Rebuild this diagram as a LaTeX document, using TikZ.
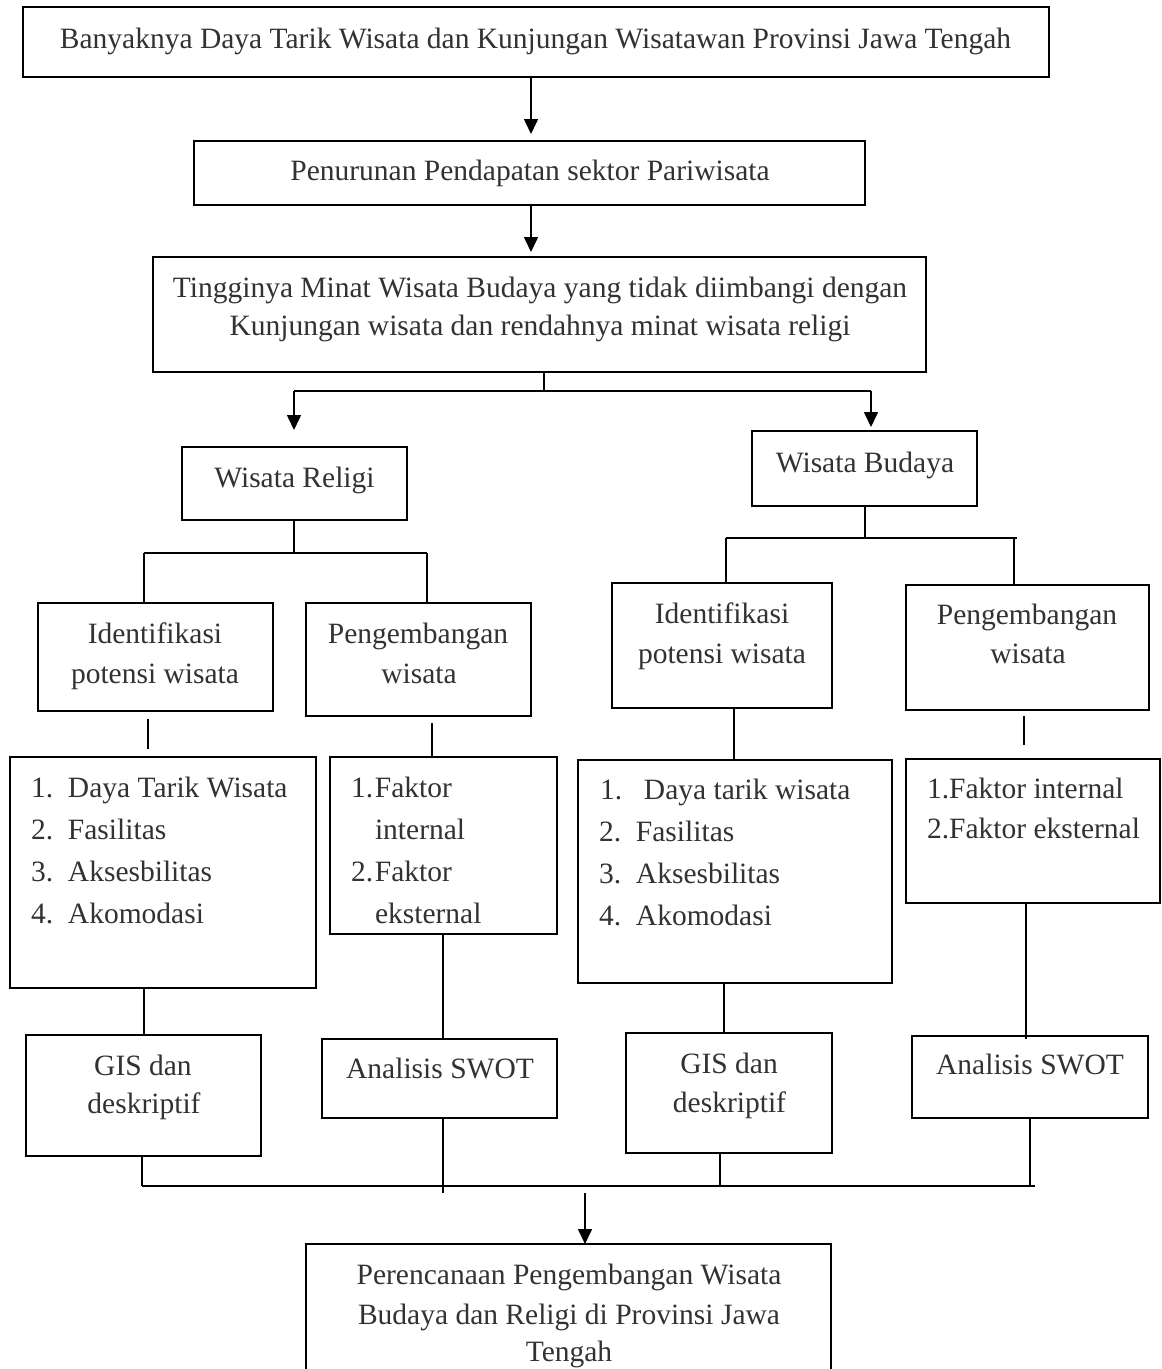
\documentclass[tikz,border=0pt]{standalone}
\usepackage{fontspec}
\setmainfont{Liberation Serif}
\usetikzlibrary{arrows.meta}
\definecolor{txt}{RGB}{50,50,50}
\begin{document}
\begin{tikzpicture}[x=1pt,y=-1pt,
  box/.style={draw=black, line width=1.8pt, anchor=north west, inner sep=0pt, outer sep=0pt},
  lbl/.style={anchor=base, inner sep=0pt, outer sep=0pt, text=txt, font=\fontsize{29.5}{36}\selectfont},
  item/.style={lbl, anchor=base west},
  conn/.style={line width=1.6pt},
  hconn/.style={line width=2.2pt},
  arr/.style={conn, -{Triangle[length=15pt,width=14pt]}}]
\useasboundingbox (0,0) rectangle (1162,1369);
\clip (0,0) rectangle (1162,1369);
\fill[white] (0,0) rectangle (1162,1369);

% ---------- boxes ----------
\node[box, minimum width=1026pt, minimum height=70pt] (b1) at (23,7) {};
\node[box, minimum width=671pt, minimum height=64pt] (b2) at (194,141) {};
\node[box, minimum width=773pt, minimum height=115pt] (b3) at (153,257) {};
\node[box, minimum width=225pt, minimum height=73pt] (wr) at (182,447) {};
\node[box, minimum width=225pt, minimum height=75pt] (wb) at (752,431) {};
\node[box, minimum width=235pt, minimum height=108pt] (idr) at (38,603) {};
\node[box, minimum width=225pt, minimum height=113pt] (pr) at (306,603) {};
\node[box, minimum width=220pt, minimum height=125pt] (idb) at (612,583) {};
\node[box, minimum width=243pt, minimum height=125pt] (pb) at (906,585) {};
\node[box, minimum width=306pt, minimum height=231pt] (lr1) at (10,757) {};
\node[box, minimum width=227pt, minimum height=177pt] (lr2) at (330,757) {};
\node[box, minimum width=314pt, minimum height=223pt] (lb1) at (578,760) {};
\node[box, minimum width=254pt, minimum height=144pt] (lb2) at (906,759) {};
\node[box, minimum width=235pt, minimum height=121pt] (gr) at (26,1035) {};
\node[box, minimum width=235pt, minimum height=79pt] (sr) at (322,1039) {};
\node[box, minimum width=206pt, minimum height=120pt] (gb) at (626,1033) {};
\node[box, minimum width=236pt, minimum height=82pt] (sb) at (912,1036) {};
\node[box, minimum width=525pt, minimum height=200pt] (fin) at (306,1244) {};

% ---------- texts ----------
\node[lbl] (t1) at (535.5,48) {Banyaknya Daya Tarik Wisata dan Kunjungan Wisatawan Provinsi Jawa Tengah};
\node[lbl] (t2) at (530,180) {Penurunan Pendapatan sektor Pariwisata};
\node[lbl] (t3a) at (540,297) {Tingginya Minat Wisata Budaya yang tidak diimbangi dengan};
\node[lbl] (t3b) at (540,335) {Kunjungan wisata dan rendahnya minat wisata religi};
\node[lbl] (twr) at (294.5,487) {Wisata Religi};
\node[lbl] (twb) at (865,472) {Wisata Budaya};
\node[lbl] (tidr1) at (155,643) {Identifikasi};
\node[lbl] (tidr2) at (155,683) {potensi wisata};
\node[lbl] (tpr1) at (418,643) {Pengembangan};
\node[lbl] (tpr2) at (419,683) {wisata};
\node[lbl] (tidb1) at (722,623) {Identifikasi};
\node[lbl] (tidb2) at (722,663) {potensi wisata};
\node[lbl] (tpb1) at (1027,624) {Pengembangan};
\node[lbl] (tpb2) at (1028,663) {wisata};

\node[item] (lr1a) at (31,797) {\makebox[37pt][l]{1.}Daya Tarik Wisata};
\node[item] (lr1b) at (31,839) {\makebox[37pt][l]{2.}Fasilitas};
\node[item] (lr1c) at (31,881) {\makebox[37pt][l]{3.}Aksesbilitas};
\node[item] (lr1d) at (31,923) {\makebox[37pt][l]{4.}Akomodasi};

\node[item] (lr2a) at (351,797) {\makebox[24pt][l]{1.}Faktor};
\node[item] (lr2b) at (375,839) {internal};
\node[item] (lr2c) at (351,881) {\makebox[24pt][l]{2.}Faktor};
\node[item] (lr2d) at (375,923) {eksternal};

\node[item] (lb1a) at (600,799) {\makebox[44pt][l]{1.}Daya tarik wisata};
\node[item] (lb1b) at (599,841) {\makebox[37pt][l]{2.}Fasilitas};
\node[item] (lb1c) at (599,883) {\makebox[37pt][l]{3.}Aksesbilitas};
\node[item] (lb1d) at (599,925) {\makebox[37pt][l]{4.}Akomodasi};

\node[item] (lb2a) at (927,798) {1.Faktor internal};
\node[item] (lb2b) at (927,838) {2.Faktor eksternal};

\node[lbl] (tgr1) at (143,1075) {GIS dan};
\node[lbl] (tgr2) at (144,1113) {deskriptif};
\node[lbl] (tsr) at (440,1078) {Analisis SWOT};
\node[lbl] (tgb1) at (729,1073) {GIS dan};
\node[lbl] (tgb2) at (729.5,1112) {deskriptif};
\node[lbl] (tsb) at (1030,1074) {Analisis SWOT};

\node[lbl] (tf1) at (569,1284) {Perencanaan Pengembangan Wisata};
\node[lbl] (tf2) at (569,1324) {Budaya dan Religi di Provinsi Jawa};
\node[lbl] (tf3) at (569,1361) {Tengah};

% ---------- coordinates ----------
\coordinate (t12) at (531,134);
\coordinate (t23) at (531,252);
\coordinate (j3) at (544,391);
\coordinate (hl) at (294,391);
\coordinate (hr) at (871,391);
\coordinate (tl) at (294,430);
\coordinate (tr) at (871,427);
\coordinate (jw) at (294,553);
\coordinate (jwl) at (144,553);
\coordinate (jwr) at (427,553);
\coordinate (jb) at (865,538);
\coordinate (jbl) at (726,538);
\coordinate (jbr) at (1017,538);
\coordinate (jbr2) at (1014,538);
\coordinate (c1a) at (148,719);
\coordinate (c1b) at (148,749);
\coordinate (c2a) at (432,723);
\coordinate (c3) at (734,730);
\coordinate (c4a) at (1024,716);
\coordinate (c4b) at (1024,745);
\coordinate (c5) at (144,1000);
\coordinate (c6) at (443,1000);
\coordinate (c7) at (724,1000);
\coordinate (c8) at (1026,1000);
\coordinate (c8e) at (1026,1039);
\coordinate (c9) at (142,1186);
\coordinate (c10) at (443,1193);
\coordinate (c11) at (720,1186);
\coordinate (c12) at (1030,1186);
\coordinate (bl) at (142,1186);
\coordinate (br) at (1035,1186);
\coordinate (fa) at (585,1193);

% ---------- connectors ----------
\draw[arr] (b1.south -| t12) -- (t12);
\draw[arr] (b2.south -| t23) -- (t23);
\draw[conn] (b3.south -| j3) -- (j3);
\draw[hconn] (hl) -- (hr);
\draw[arr] (hl) -- (tl);
\draw[arr] (hr) -- (tr);

\draw[conn] (wr.south -| jw) -- (jw);
\draw[hconn] (jwl) -- (jwr);
\draw[conn] (jwl) -- (idr.north -| jwl);
\draw[conn] (jwr) -- (pr.north -| jwr);

\draw[conn] (wb.south -| jb) -- (jb);
\draw[hconn] (jbl) -- (jbr);
\draw[conn] (jbl) -- (idb.north -| jbl);
\draw[conn] (jbr2) -- (pb.north -| jbr2);

\draw[conn] (c1a) -- (c1b);
\draw[conn] (c2a) -- (lr2.north -| c2a);
\draw[conn] (idb.south -| c3) -- (lb1.north -| c3);
\draw[conn] (c4a) -- (c4b);

\draw[conn] (lr1.south -| c5) -- (gr.north -| c5);
\draw[conn] (lr2.south -| c6) -- (sr.north -| c6);
\draw[conn] (lb1.south -| c7) -- (gb.north -| c7);
\draw[conn] (lb2.south -| c8) -- (c8e);

\draw[conn] (gr.south -| c9) -- (c9);
\draw[conn] (sr.south -| c10) -- (c10);
\draw[conn] (gb.south -| c11) -- (c11);
\draw[conn] (sb.south -| c12) -- (c12);
\draw[hconn] (bl) -- (br);
\draw[arr] (fa) -- (fin.north -| fa);
\end{tikzpicture}
\end{document}
